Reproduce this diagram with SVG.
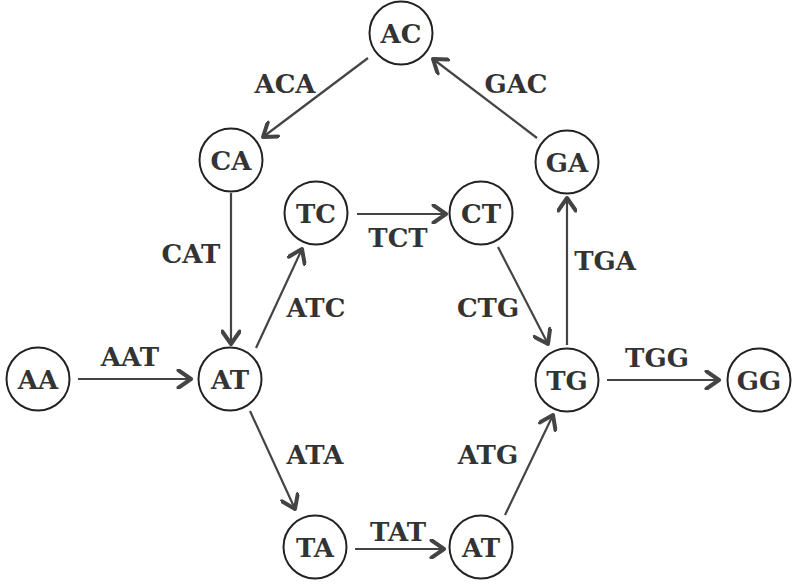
<svg xmlns="http://www.w3.org/2000/svg" width="800" height="584" viewBox="0 0 800 584">
<defs>
<style>
.n circle{fill:#fff;stroke:#222;stroke-width:2}
text{font-family:"DejaVu Serif","Liberation Serif",serif;font-weight:700;font-size:26px;fill:#333;text-anchor:middle}
.e line{stroke:#444;stroke-width:2.2;marker-end:url(#ah)}
</style>
<marker id="ah" markerUnits="userSpaceOnUse" markerWidth="20" markerHeight="20" viewBox="-12 -8 14 16" refX="0" refY="0" orient="auto">
<path d="M-10,-7 L0,0 L-10,7" fill="none" stroke="#444" stroke-width="3.2" stroke-linecap="round" stroke-linejoin="round"/>
</marker>
</defs>
<rect width="800" height="584" fill="#fff"/>
<g class="e" id="edges">
<line x1="368" y1="58" x2="263" y2="137"/>
<line x1="537" y1="138" x2="433" y2="59"/>
<line x1="231" y1="193" x2="231" y2="344"/>
<line x1="256" y1="348" x2="302" y2="249"/>
<line x1="357" y1="214" x2="446" y2="214"/>
<line x1="498" y1="247" x2="548" y2="344"/>
<line x1="567" y1="345" x2="567" y2="198"/>
<line x1="78" y1="379" x2="191" y2="379"/>
<line x1="607" y1="380" x2="719" y2="380"/>
<line x1="250" y1="411" x2="295" y2="509"/>
<line x1="355" y1="549" x2="444" y2="549"/>
<line x1="505" y1="515" x2="553" y2="415"/>
</g>
<g id="edge-labels">
<text x="285" y="92.5">ACA</text>
<text x="516" y="92.5">GAC</text>
<text x="191" y="262.5">CAT</text>
<text x="316" y="316.5">ATC</text>
<text x="398" y="246.5">TCT</text>
<text x="488" y="316.5">CTG</text>
<text x="605" y="269.5">TGA</text>
<text x="130" y="365.5">AAT</text>
<text x="657" y="366.5">TGG</text>
<text x="315" y="463.5">ATA</text>
<text x="488" y="463.5">ATG</text>
<text x="398" y="540.5">TAT</text>
</g>
<g class="n" id="n-AC"><circle cx="401" cy="33" r="31.5"/><text x="401" y="42.5">AC</text></g>
<g class="n" id="n-CA"><circle cx="231" cy="160" r="31.5"/><text x="231" y="169.5">CA</text></g>
<g class="n" id="n-GA"><circle cx="567" cy="162" r="31.5"/><text x="567" y="171.5">GA</text></g>
<g class="n" id="n-TC"><circle cx="316" cy="213" r="31.5"/><text x="316" y="222.5">TC</text></g>
<g class="n" id="n-CT"><circle cx="481" cy="213" r="31.5"/><text x="481" y="222.5">CT</text></g>
<g class="n" id="n-AA"><circle cx="38" cy="379" r="31.5"/><text x="38" y="388.5">AA</text></g>
<g class="n" id="n-AT"><circle cx="230" cy="379" r="31.5"/><text x="230" y="388.5">AT</text></g>
<g class="n" id="n-TG"><circle cx="567" cy="380" r="31.5"/><text x="567" y="389.5">TG</text></g>
<g class="n" id="n-GG"><circle cx="759" cy="380" r="31.5"/><text x="759" y="389.5">GG</text></g>
<g class="n" id="n-TA"><circle cx="315" cy="547" r="31.5"/><text x="315" y="556.5">TA</text></g>
<g class="n" id="n-AT2"><circle cx="481" cy="547" r="31.5"/><text x="481" y="556.5">AT</text></g>
</svg>
